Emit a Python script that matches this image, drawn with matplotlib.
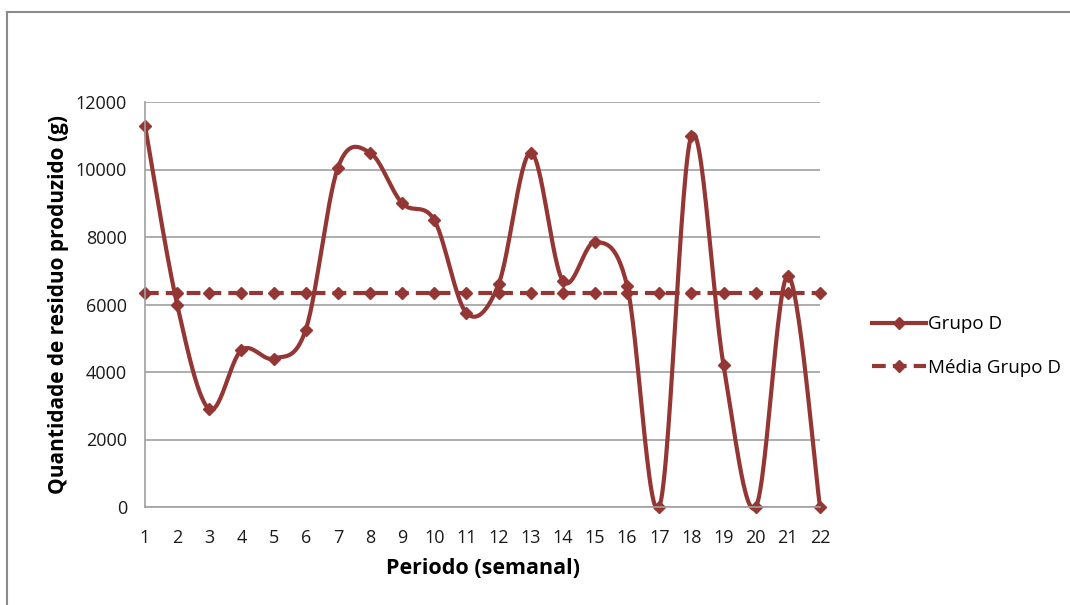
import numpy as np
import matplotlib.pyplot as plt
from matplotlib.lines import Line2D

# weekly residue for group D (g)
periodos = list(range(1, 23))
grupo_d = [11300, 6000, 2900, 4650, 4400, 5250, 10050, 10500, 9000, 8500, 5750,
           6600, 10500, 6700, 7850, 6550, 0, 11000, 4200, 0, 6850, 0]
media_grupo_d = [6330] * 22

cor = '#943634'


# smoothed curve through the points (bezier with catmull-rom style handles)
def suavizar(x, y, n=30):
    x = np.asarray(x, float)
    y = np.asarray(y, float)
    xs, ys = [], []
    for i in range(len(x) - 1):
        i0 = max(i - 1, 0)
        i3 = min(i + 2, len(x) - 1)
        p0 = np.array([x[i], y[i]])
        p3 = np.array([x[i + 1], y[i + 1]])
        c1 = p0 + (p3 - np.array([x[i0], y[i0]])) / 6
        c2 = p3 - (np.array([x[i3], y[i3]]) - p0) / 6
        t = np.linspace(0, 1, n)[:, None]
        pts = ((1 - t) ** 3) * p0 + 3 * ((1 - t) ** 2) * t * c1 + 3 * (1 - t) * t ** 2 * c2 + t ** 3 * p3
        xs.extend(pts[:, 0])
        ys.extend(pts[:, 1])
    return xs, ys


plt.rcParams['font.family'] = ['Open Sans', 'DejaVu Sans']

fig = plt.figure(figsize=(10.7, 6.05), dpi=100)
ax = fig.add_axes([145 / 1070, 1 - 507 / 605, 675 / 1070, 405 / 605])

sx, sy = suavizar(periodos, grupo_d)
ax.plot(sx, sy, color=cor, lw=3, solid_capstyle='round', clip_on=False)
ax.plot(periodos, grupo_d, ls='none', marker='D', ms=6.5, color=cor,
        clip_on=False)
ax.plot(periodos, media_grupo_d, color=cor, lw=3, ls=(0, (3.3, 1.7)),
        marker='D', ms=6.5, clip_on=False)

ax.set_xlim(1, 22)
ax.set_ylim(0, 12000)
ax.set_xticks(periodos)
ax.set_yticks(range(0, 12001, 2000))
ax.yaxis.grid(True, color='#a0a0a0', lw=1.2)
ax.set_axisbelow(True)
for lado in ['top', 'right']:
    ax.spines[lado].set_visible(False)
ax.spines['left'].set_color('#a0a0a0')
ax.spines['bottom'].set_color('#a0a0a0')
ax.spines['left'].set_linewidth(1.2)
ax.spines['bottom'].set_linewidth(1.2)
ax.tick_params(axis='both', length=0, labelsize=13, colors='#1a1a1a')
ax.tick_params(axis='x', pad=16)
ax.tick_params(axis='y', pad=13)

ax.set_xlabel('Periodo (semanal)', fontsize=15.5, fontweight='bold', labelpad=8)
ax.set_ylabel('Quantidade de residuo produzido (g)', fontsize=15,
              fontweight='bold', labelpad=5)

handles = [
    Line2D([], [], color=cor, lw=3, marker='D', ms=6.5),
    Line2D([], [], color=cor, lw=3, ls=(0, (3.3, 1.7)), marker='D', ms=6.5),
]
fig.legend(handles, ['Grupo D', 'Média Grupo D'], loc='center left',
           bbox_to_anchor=(855 / 1070, 1 - 346 / 605), frameon=False,
           fontsize=13.5, handlelength=2.9, handletextpad=0.1, labelspacing=1.35)

# chart area border (top and left edges)
fig.add_artist(Line2D([6.5 / 1070, 6.5 / 1070], [0, 1 - 11.5 / 605],
                      color='#8c8c8c', lw=1.5, transform=fig.transFigure))
fig.add_artist(Line2D([6.5 / 1070, 1], [1 - 11.5 / 605, 1 - 11.5 / 605],
                      color='#8c8c8c', lw=1.5, transform=fig.transFigure))

fig.savefig('out.png', dpi=100)
